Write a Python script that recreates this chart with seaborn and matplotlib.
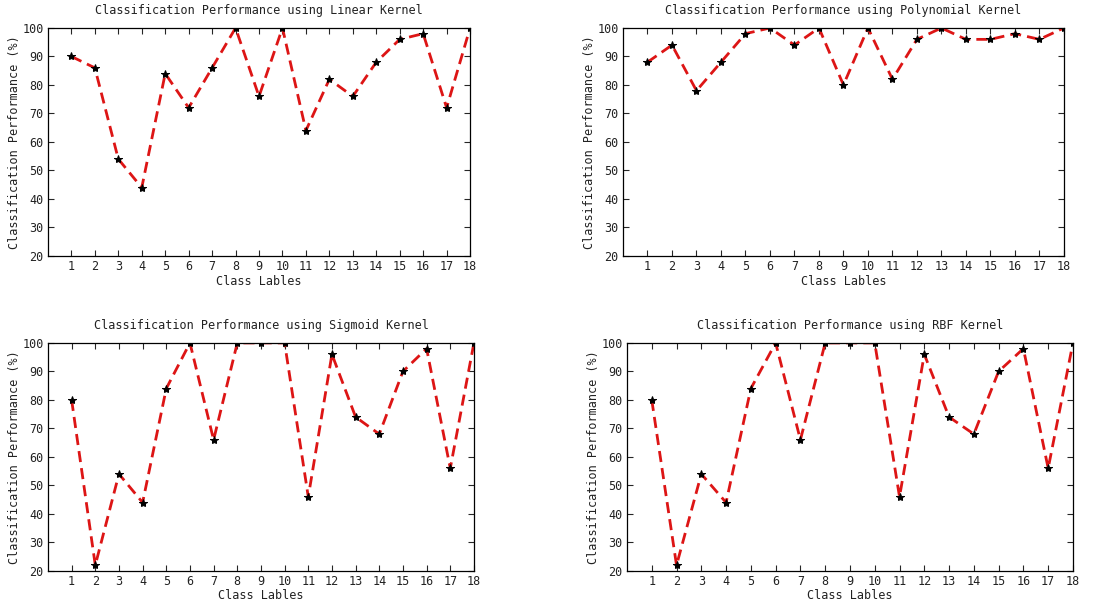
import pandas as pd
import numpy as np
import matplotlib.pyplot as plt
import seaborn as sns

# Values
classes = list(range(1, 19))
linear = [90, 86, 54, 44, 84, 72, 86, 100, 76, 100, 64, 82, 76, 88, 96, 98, 72, 100]
polynomial = [88, 94, 78, 88, 98, 100, 94, 100, 80, 100, 82, 96, 100, 96, 96, 98, 96, 100]
sigmoid = [80, 22, 54, 44, 84, 100, 66, 100, 100, 100, 46, 96, 74, 68, 90, 98, 56, 100]
rbf = [80, 22, 54, 44, 84, 100, 66, 100, 100, 100, 46, 96, 74, 68, 90, 98, 56, 100]

kernels = ["Linear", "Polynomial", "Sigmoid", "RBF"]
series = [linear, polynomial, sigmoid, rbf]

sns.set_style("ticks")
plt.rcParams['font.family'] = ['DejaVu Sans Mono', 'DejaVu Sans']

fig = plt.figure(figsize=(11.05, 6.08), dpi=100)

# axes boxes (left, bottom, width, height) in figure fractions
boxes = [
    [0.0434, 0.579, 0.382, 0.375],
    [0.5638, 0.579, 0.399, 0.375],
    [0.0434, 0.061, 0.3855, 0.375],
    [0.5674, 0.061, 0.4036, 0.375],
]

for name, vals, box in zip(kernels, series, boxes):
    ax = fig.add_axes(box)
    df = pd.DataFrame({'cls': classes, 'perf': vals})
    sns.lineplot(data=df, x='cls', y='perf', ax=ax, color='#dd1515',
                 linestyle=(0, (4, 2.2)), linewidth=2, marker='*',
                 markersize=6, markerfacecolor='black', markeredgecolor='black',
                 clip_on=True)
    ax.set_xlim(0, 18)
    ax.set_ylim(20, 100)
    ax.set_xticks(classes)
    ax.set_yticks(np.arange(20, 101, 10))
    ax.tick_params(direction='in', top=True, right=True, labelsize=8.5,
                   length=4, width=0.8, pad=3, labelcolor='#222222')
    for sp in ax.spines.values():
        sp.set_linewidth(0.9)
        sp.set_color('black')
    ax.set_title(f'Classification Performance using {name} Kernel', fontsize=8.5,
                 pad=10, color='#222222')
    ax.set_xlabel('Class Lables', fontsize=8.5, labelpad=1, color='#222222')
    ax.set_ylabel('Classification Performance (%)', fontsize=8.5, labelpad=1,
                  color='#222222')

plt.savefig('out.png', dpi=100)
plt.close()
